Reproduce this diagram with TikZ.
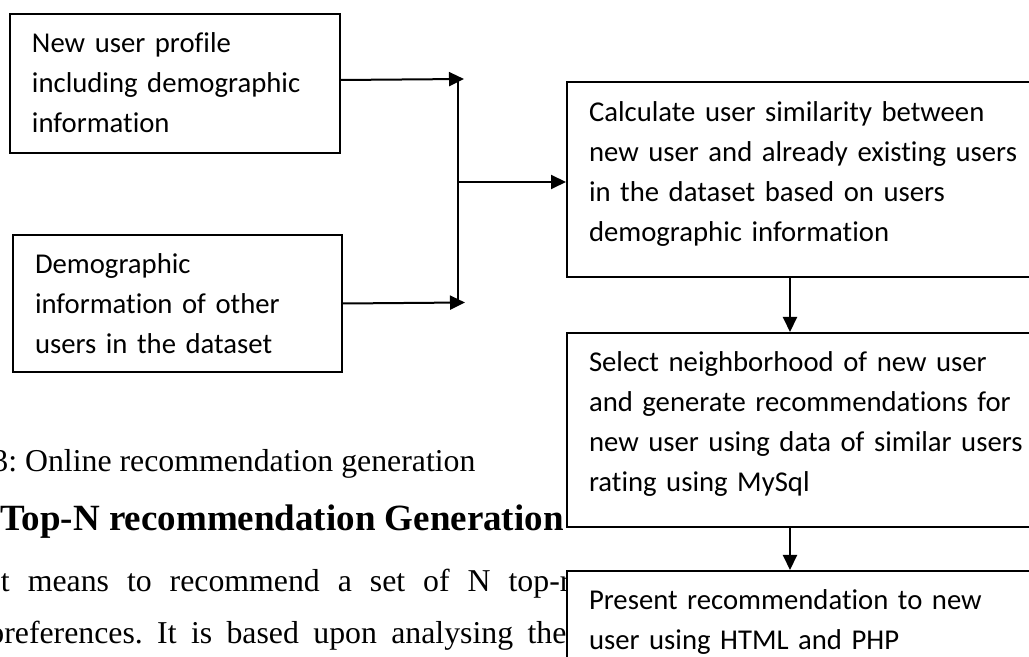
\documentclass[tikz,border=0pt]{standalone}
\usepackage{fontspec}
\setmainfont{Liberation Serif}
\newfontfamily\boxfont[Ligatures=NoCommon]{Carlito}
\usepackage{tikz}
\usetikzlibrary{arrows.meta}
\frenchspacing

\begin{document}
\begin{tikzpicture}[x=0.5pt, y=-0.5pt,
  flowbox/.style={draw=black, line width=1pt, fill=white, anchor=north west,
    inner xsep=11pt, inner ysep=0pt, text height=19.5pt, align=left,
    font={\boxfont\fontsize{14.35pt}{20pt}\selectfont}},
  bodytext/.style={inner sep=0pt, anchor=base west,
    font={\fontsize{15.9pt}{20pt}\selectfont}},
  headtext/.style={inner sep=0pt, anchor=base west,
    font={\bfseries\fontsize{18.5pt}{22pt}\selectfont}},
  flowline/.style={line width=1pt},
  flowarrow/.style={line width=1pt, -{Triangle[length=7.5pt, width=7pt]}}]
% page area
\useasboundingbox (0,0) rectangle (1029,657);
\clip (0,0) rectangle (1029,657);
%
% text of the page behind the chart
\node[bodytext] (caption) at (-8,472) {3: Online recommendation generation};
\node[headtext] (heading) at (0,531) {Top-N recommendation Generation};
\node[bodytext] (parone) at (-10,592) {\makebox[290pt][s]{It means to recommend a set of N top-r}};
\node[bodytext] (partwo) at (-12,644) {\makebox[289pt][s]{preferences. It is based upon analysing the}};
%
% input boxes
\node[flowbox, text width=143pt, text depth=50pt] (profile) at (9,13)
  {New user profile\\including demographic\\information};
\node[flowbox, text width=142.5pt, text depth=49pt] (others) at (12,234)
  {Demographic\\information of other\\users in the dataset};
% chain of steps
\node[flowbox, text width=225pt, text depth=77.75pt] (calc) at (566,81.5)
  {Calculate user similarity between\\new user and already existing users\\in the dataset based on users\\demographic information};
\node[flowbox, text width=225pt, text depth=77.5pt] (select) at (566,332)
  {Select neighborhood of new user\\and generate recommendations for\\new user using data of similar users\\rating using MySql};
\node[flowbox, text width=225pt, text depth=80pt] (present) at (566,570)
  {Present recommendation to new\\user using HTML and PHP};
%
% joining the two inputs
\coordinate (tipa) at (464,79);
\coordinate (tipb) at (465,302.5);
\coordinate (bustop) at (458,79);
\coordinate (busbot) at (458,303);
\coordinate (busmid) at (458,182);
\draw[flowarrow] ([yshift=1.75pt]profile.east) -- (tipa);
\draw[flowarrow] (others.east) -- (tipb);
\draw[flowline] (bustop) -- (busbot);
\draw[flowarrow] (busmid) -- (busmid -| calc.west);
%
% down the chain
\foreach \a/\b in {calc/select, select/present}{
\draw[flowarrow] ([xshift=112pt]\a.south west) -- ([xshift=112pt]\b.north west);
}
\end{tikzpicture}
\end{document}
